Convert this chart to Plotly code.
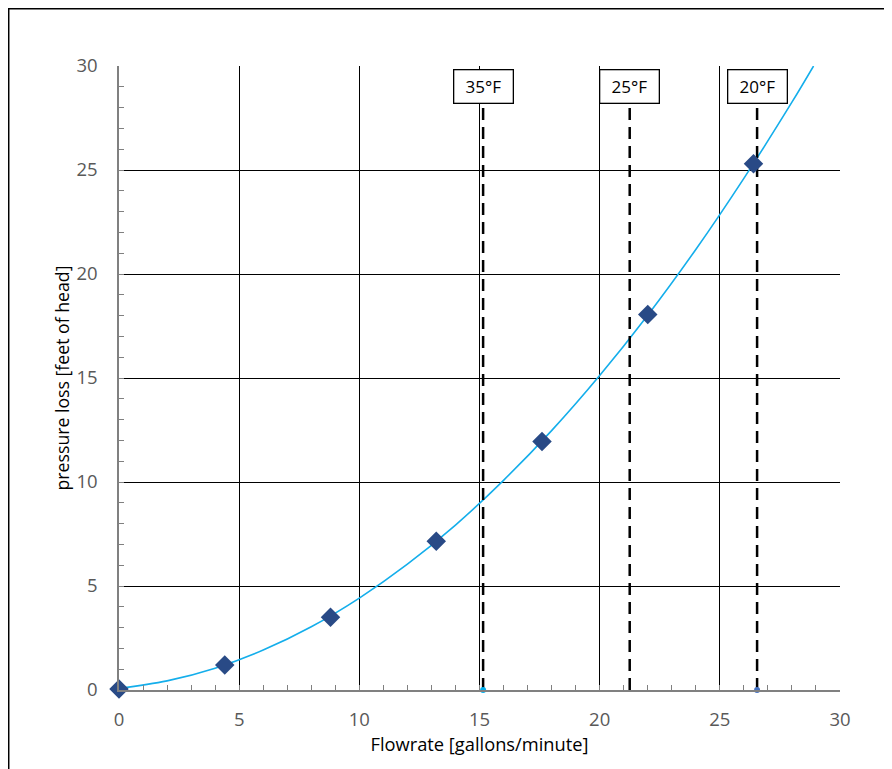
import plotly.graph_objects as go

# measured points
flow = [0, 4.4, 8.8, 13.2, 17.6, 22.0, 26.4]
loss = [0.05, 1.2, 3.5, 7.15, 11.95, 18.05, 25.3]

# trendline
trend_x = [0, 2, 4, 6, 8, 10, 12, 14, 16, 18, 20, 22, 24, 26, 28, 28.9]
trend_y = [0.08, 0.44, 1.05, 1.92, 3.04, 4.42, 6.05, 7.93, 10.08, 12.47,
           15.12, 18.02, 21.18, 24.6, 28.26, 30.0]

# temperature limits
temp_labels = ["35°F", "25°F", "20°F"]
temp_flow = [15.15, 21.25, 26.55]
line_top = 28.3

font = "'Open Sans', sans-serif"

fig = go.Figure()

fig.add_trace(go.Scatter(x=trend_x, y=trend_y, mode="lines",
                         line=dict(color="#14AEEB", width=1.6, shape="spline"),
                         hoverinfo="skip"))

for xv in temp_flow:
    fig.add_trace(go.Scatter(x=[xv, xv], y=[0, line_top], mode="lines",
                             line=dict(color="black", width=2.5, dash="12px,7px")))

fig.add_trace(go.Scatter(x=[temp_flow[0], temp_flow[2]], y=[0, 0], mode="markers",
                         marker=dict(color=["#00B0F0", "#4472C4"], size=6),
                         cliponaxis=False))

fig.add_trace(go.Scatter(x=flow, y=loss, mode="markers",
                         marker=dict(symbol="diamond", size=15, color="#294A86"),
                         cliponaxis=False))

for lab, xv in zip(temp_labels, temp_flow):
    fig.add_annotation(x=xv, y=30, yref="y", xref="x", text=lab, showarrow=False,
                       yanchor="top", yshift=-3, width=52, height=26,
                       bgcolor="white", bordercolor="black", borderwidth=1.3,
                       borderpad=3, font=dict(family=font, size=17, color="black"))

# outer chart border
fig.add_shape(type="rect", xref="paper", yref="paper",
              x0=-0.1533, x1=1.2, y0=-0.3, y1=1.0922,
              line=dict(color="black", width=2))

axis_common = dict(
    showgrid=True, gridcolor="black", gridwidth=1,
    showline=True, linecolor="#808080", linewidth=1.5,
    ticks="inside", ticklen=5, tickcolor="#808080",
    tickfont=dict(family=font, size=18.5, color="#595959"),
    zeroline=False,
    minor=dict(ticks="inside", ticklen=5, tickcolor="#808080", dtick=1, showgrid=False),
    dtick=5,
)

fig.update_xaxes(range=[0, 30], ticklabelstandoff=12,
                 title=dict(text="Flowrate [gallons/minute]",
                            font=dict(family=font, size=18.3, color="black"), standoff=6),
                 **axis_common)
fig.update_yaxes(range=[0, 30], ticklabelstandoff=16,
                 title=dict(text="pressure loss [feet of head]",
                            font=dict(family=font, size=17.7, color="black"), standoff=2),
                 **axis_common)

fig.update_layout(width=892, height=769, showlegend=False,
                  margin=dict(l=111, r=60, t=58, b=87),
                  plot_bgcolor="white", paper_bgcolor="white")

fig.write_html("out.html")
